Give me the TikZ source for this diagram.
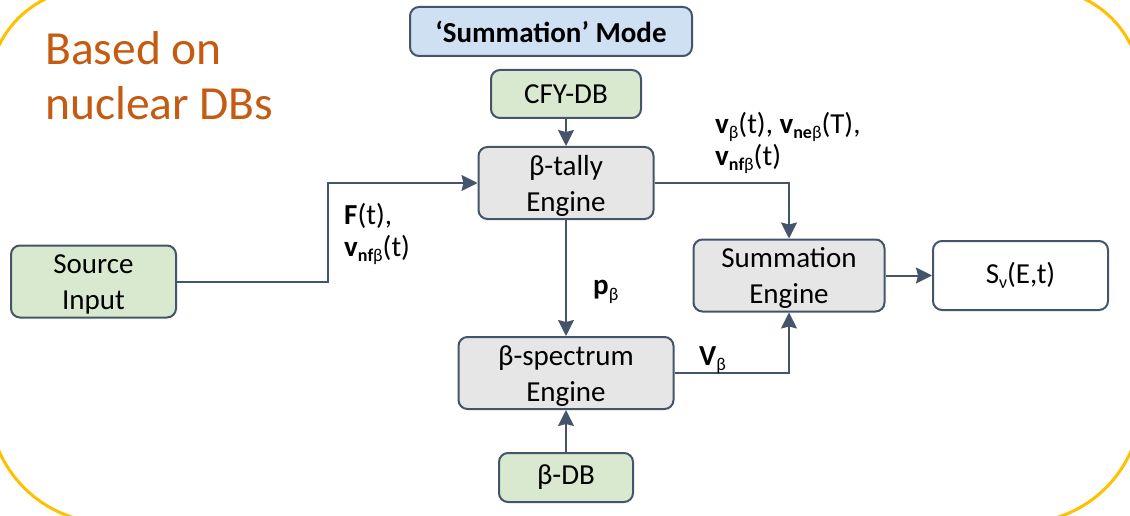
\documentclass[tikz,border=0pt]{standalone}
\usepackage{fontspec}
\setmainfont{Carlito}
\usetikzlibrary{arrows.meta}

\definecolor{frameline}{RGB}{68,84,106}
\definecolor{enginefill}{RGB}{231,230,230}
\definecolor{dbfill}{RGB}{216,233,208}
\definecolor{modefill}{RGB}{207,224,243}
\definecolor{goldline}{RGB}{255,192,0}
\definecolor{rust}{RGB}{197,90,17}

% lowered, smaller text for subscripts
\newcommand\lsub[1]{\raisebox{-0.4ex}{\fontsize{18}{18}\selectfont #1}}
% two centred lines, set a little below the middle of their box
\newcommand\twol[2]{\raisebox{-3pt}[\height][\depth]{%
  \begin{tabular}{@{}c@{}}#1\\#2\end{tabular}}}

\begin{document}
\begin{tikzpicture}[x=1pt,y=-1pt,
  every node/.style={font=\fontsize{29}{36}\selectfont},
  basebox/.style={draw=frameline, line width=2pt, rounded corners=9pt,
                  align=center, inner sep=0pt},
  enginebox/.style={basebox, fill=enginefill},
  dbbox/.style={basebox, fill=dbfill},
  modebox/.style={basebox, fill=modefill},
  outbox/.style={basebox, fill=white},
  flow/.style={draw=frameline, line width=2pt,
               -{Stealth[length=16pt,width=16pt,inset=2pt]}},
  lbl/.style={anchor=west, align=left, inner sep=0pt,
              font=\fontsize{29}{32}\selectfont}
]
\useasboundingbox (0,0) rectangle (1130,516);

% surrounding frame
\draw[goldline, line width=3pt]
  (-11,89) arc[start angle=180,end angle=270,radius=100]
  -- (1041,-11) arc[start angle=270,end angle=360,radius=100]
  -- (1141,403) arc[start angle=0,end angle=90,radius=120]
  -- (109,523) arc[start angle=90,end angle=180,radius=120]
  -- cycle;

% heading
\node[anchor=west, align=left, inner sep=0pt, text=rust,
      font=\fontsize{47.5}{55}\selectfont] (title) at (45,76)
  {Based on\\nuclear DBs};

% blocks
\node[modebox, minimum width=282pt, minimum height=49pt] (mode) at (551,31.5)
  {\textbf{‘Summation’ Mode}};
\node[dbbox, minimum width=150pt, minimum height=48pt] (cfy) at (566,94) {CFY-DB};
\node[enginebox, minimum width=175pt, minimum height=69pt] (tally) at (566,183)
  {\twol{β-tally}{Engine}};
\node[dbbox, minimum width=165pt, minimum height=69pt] (src) at (93.5,281.5)
  {\twol{Source}{Input}};
\node[enginebox, minimum width=191pt, minimum height=69pt] (sum) at (789,275.5)
  {\twol{Summation}{Engine}};
\node[outbox, minimum width=175pt, minimum height=69pt] (sv) at (1020.5,275.5)
  {S\lsub{ν}(E,t)};
\node[enginebox, minimum width=215pt, minimum height=69pt] (spec) at (566,373)
  {\twol{β-spectrum}{Engine}};
\node[dbbox, minimum width=134pt, minimum height=49pt] (bdb) at (566,477.5) {β-DB};

% connectors
\coordinate (bend) at (328,0);
\draw[flow] (cfy) -- (tally);
\draw[flow] (src.east) -- (src.east -| bend) -- (bend |- tally.west) -- (tally.west);
\draw[flow] (tally.east) -| (sum.north);
\draw[flow] (tally) -- (spec);
\draw[flow] (spec.east) -| (sum.south);
\draw[flow] (sum.east) -- (sv.west);
\draw[flow] (bdb) -- (spec);

% flow labels
\node[lbl] (ltop) at (715,143)
  {\textbf{v}\lsub{β}(t), \textbf{v}\lsub{\textbf{ne}β}(T),\\\textbf{v}\lsub{\textbf{nf}β}(t)};
\node[lbl] (lsrc) at (344,234)
  {\textbf{F}(t),\\\textbf{v}\lsub{\textbf{nf}β}(t)};
\node[lbl] (lp) at (593,292) {\textbf{p}\lsub{β}};
\node[lbl] (lv) at (699,360) {\textbf{V}\lsub{β}};
\end{tikzpicture}
\end{document}
